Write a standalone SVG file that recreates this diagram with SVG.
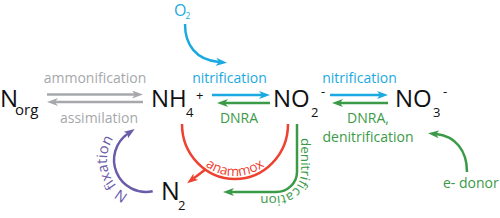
<svg xmlns="http://www.w3.org/2000/svg" width="500" height="218" viewBox="0 0 500 218">
<style>
text{font-family:"Open Sans","Liberation Sans",sans-serif}
.chem{font-size:24px;fill:#111}
.sub{font-size:13px;fill:#111}
.lbl{font-size:14px}
.g{fill:#a6a8ab}.b{fill:#1ba9e1}.gr{fill:#3b9a47}.r{fill:#ef4130}.p{fill:#6a5ca8}
.ln{fill:none;stroke-width:2.5}
.sg{stroke:#a6a8ab}.sb{stroke:#1ba9e1}.sgr{stroke:#3b9a47}.sr{stroke:#ef4130}.sp{stroke:#6a5ca8}
</style>
<defs>
<marker id="mg" viewBox="0 0 11 8" markerWidth="11" markerHeight="8" refX="3" refY="4" orient="auto" markerUnits="userSpaceOnUse"><path d="M0,0 L11,4 L0,8 L3,4 z" fill="#a6a8ab"/></marker>
<marker id="mb" viewBox="0 0 11 8" markerWidth="11" markerHeight="8" refX="3" refY="4" orient="auto" markerUnits="userSpaceOnUse"><path d="M0,0 L11,4 L0,8 L3,4 z" fill="#1ba9e1"/></marker>
<marker id="mgr" viewBox="0 0 11 8" markerWidth="11" markerHeight="8" refX="3" refY="4" orient="auto" markerUnits="userSpaceOnUse"><path d="M0,0 L11,4 L0,8 L3,4 z" fill="#3b9a47"/></marker>
<marker id="mr" viewBox="0 0 11 8" markerWidth="11" markerHeight="8" refX="3" refY="4" orient="auto" markerUnits="userSpaceOnUse"><path d="M0,0 L11,4 L0,8 L3,4 z" fill="#ef4130"/></marker>
<marker id="mp" viewBox="0 0 11 8" markerWidth="11" markerHeight="8" refX="3" refY="4" orient="auto" markerUnits="userSpaceOnUse"><path d="M0,0 L11,4 L0,8 L3,4 z" fill="#6a5ca8"/></marker>
<path id="tpAnammox" d="M185,124 A50,52 0 0 0 285,124"/>
<path id="tpDenit" d="M301,138 V172 A25,24 0 0 1 276,196 H230"/>
<path id="tpFix" d="M128.3,194.7 A39,39 0 0 1 132.7,123.3"/>
</defs>

<g id="Norg"><text class="chem" x="0" y="107">N</text><text class="sub" x="15" y="115" style="font-size:15px">org</text></g>
<g id="NH4"><text class="chem" x="151" y="107">NH</text><text class="sub" x="186" y="117">4</text><text class="sub" x="196" y="100">+</text></g>
<g id="NO2"><text class="chem" x="273" y="107">NO</text><text class="sub" x="311" y="117">2</text><text class="sub" x="321" y="96">-</text></g>
<g id="NO3"><text class="chem" x="395" y="107">NO</text><text class="sub" x="433" y="117">3</text><text class="sub" x="443" y="96">-</text></g>
<g id="N2"><text class="chem" x="161" y="200" style="font-size:25px">N</text><text class="sub" x="178" y="210">2</text></g>
<g id="O2"><text class="b" x="174" y="16" style="font-size:16px">O</text><text class="b" x="185.5" y="19" style="font-size:8.5px">2</text></g>
<g id="edonor"><text class="gr lbl" x="443" y="188">e- donor</text></g>

<g id="connectors">
<path class="ln sg" d="M47,94.5 H135" marker-end="url(#mg)"/>
<path class="ln sg" d="M143,102 H55" marker-end="url(#mg)"/>
<path class="ln sb" d="M212,95 H262" marker-end="url(#mb)"/>
<path class="ln sgr" d="M270,103 H225" marker-end="url(#mgr)"/>
<path class="ln sb" d="M330,95 H380" marker-end="url(#mb)"/>
<path class="ln sgr" d="M388,103 H340" marker-end="url(#mgr)"/>
<path class="ln sb" d="M185,24 C185,45 196,60 219,62" marker-end="url(#mb)"/>
<path class="ln sr" d="M182,124 A53,55 0 0 0 288,124"/>
<path class="ln sr" d="M206,169 L193.5,178.5" marker-end="url(#mr)"/>
<path class="ln sgr" d="M297,124 V172 A21,20 0 0 1 276,192 H231" marker-end="url(#mgr)"/>
<path class="ln sp" d="M152.7,191.3 A32,32 0 0 1 128.1,133.5" marker-end="url(#mp)"/>
<path class="ln sgr" d="M467,172 C467,150 455,136 436,134" marker-end="url(#mgr)"/>

<text class="g lbl" x="95" y="83" text-anchor="middle">ammonification</text>
<text class="g lbl" x="99" y="123" text-anchor="middle">assimilation</text>
<text class="b lbl" x="229.5" y="83" text-anchor="middle">nitrification</text>
<text class="gr lbl" x="239" y="123" text-anchor="middle">DNRA</text>
<text class="b lbl" x="359.5" y="83" text-anchor="middle">nitrification</text>
<text class="gr lbl" x="368" y="123" text-anchor="middle">DNRA,</text>
<text class="gr lbl" x="368" y="142" text-anchor="middle">denitrification</text>
<text class="r" style="font-size:13.5px"><textPath href="#tpAnammox" startOffset="50%" text-anchor="middle">anammox</textPath></text>
<text class="gr" style="font-size:13.5px"><textPath href="#tpDenit">denitrification</textPath></text>
<text class="p" style="font-size:14.5px"><textPath href="#tpFix">N fixation</textPath></text>
</g>
</svg>
